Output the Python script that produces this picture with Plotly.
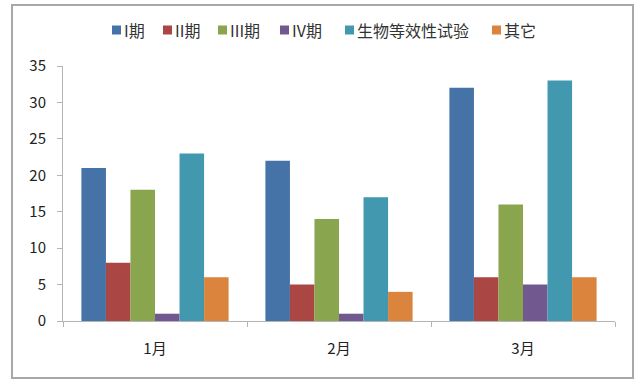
import plotly.graph_objects as go

categories = ["1月", "2月", "3月"]
series_names = ["I期", "II期", "III期", "IV期", "生物等效性试验", "其它"]
phase1 = [21, 22, 32]
phase2 = [8, 5, 6]
phase3 = [18, 14, 16]
phase4 = [1, 1, 5]
bioeq = [23, 17, 33]
other = [6, 4, 6]
y_ticks = [0, 5, 10, 15, 20, 25, 30, 35]

colors = ["#4572A7", "#AA4643", "#89A54E", "#71588F", "#4198AF", "#DB843D"]
values = [phase1, phase2, phase3, phase4, bioeq, other]

# plot area in pixels
L, R, T, B = 63, 615, 66, 321
W, H = R - L, B - T
def px(x):
    return (x - L) / W
def py(y):
    return (B - y) / H

fig = go.Figure()
for name, vals, c in zip(series_names, values, colors):
    fig.add_trace(go.Bar(x=categories, y=vals, name=name,
                         marker=dict(color=c, line=dict(width=0))))

fig.update_layout(
    width=640, height=385,
    margin=dict(l=L, r=640 - R, t=T, b=385 - B, autoexpand=False),
    paper_bgcolor="white", plot_bgcolor="white",
    barmode="group", bargap=0.2, bargroupgap=0,
    font=dict(family="Noto Sans CJK SC, Liberation Sans, sans-serif", color="#333333"),
    showlegend=False,
    xaxis=dict(showline=True, linecolor="#B4B4B4", linewidth=1, ticks="outside",
               tickson="boundaries", ticklen=5, tickcolor="#B4B4B4",
               ticklabelstandoff=14,
               tickfont=dict(size=15, color="#222222"), showgrid=False, fixedrange=True),
    yaxis=dict(range=[0, 35], tickvals=y_ticks, showline=True, linecolor="#B4B4B4",
               linewidth=1, ticks="outside", ticklen=5, tickcolor="#B4B4B4",
               ticklabelstandoff=8,
               tickfont=dict(size=15, color="#222222"), showgrid=False, zeroline=False),
)

# outer chart border
fig.add_shape(type="rect", xref="paper", yref="paper",
              x0=px(12), x1=px(633), y0=py(378), y1=py(5),
              line=dict(color="#A8A8A8", width=2), fillcolor="rgba(0,0,0,0)", layer="below")

# legend (drawn manually to match the compact spacing of the reference)
legend_left = [112, 163, 218, 280, 345, 492]
legend_y = 30
sq = 9
for name, c, x0 in zip(series_names, colors, legend_left):
    fig.add_shape(type="rect", xref="paper", yref="paper",
                  x0=px(x0), x1=px(x0 + sq), y0=py(legend_y + sq / 2), y1=py(legend_y - sq / 2),
                  line=dict(width=0), fillcolor=c)
    fig.add_annotation(text=name, xref="paper", yref="paper", x=px(x0 + sq + 1), y=py(legend_y),
                       xanchor="left", yanchor="middle", showarrow=False,
                       font=dict(size=16, color="#333333"))

fig.write_html("out.html", config={"displayModeBar": False},
               post_script="document.body.style.margin='0';document.body.style.overflow='hidden';")
